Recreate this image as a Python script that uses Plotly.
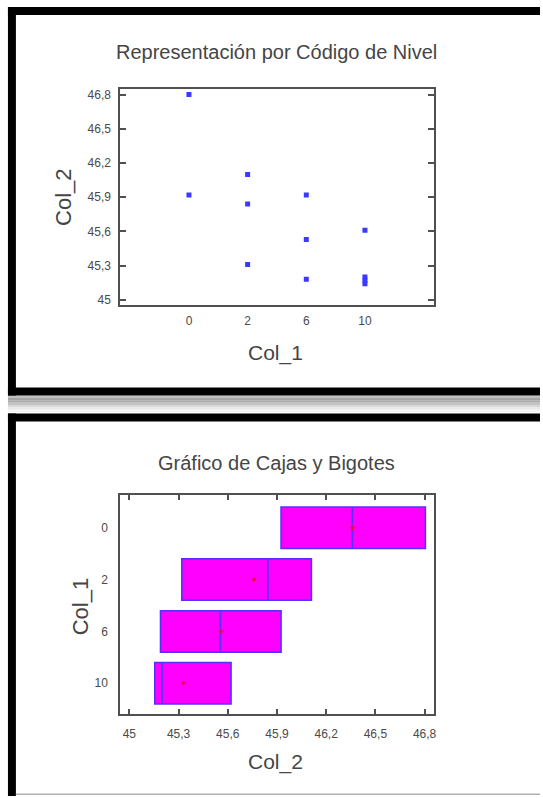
import plotly.graph_objects as go

# ---------------- data ----------------
scatter_x = ["0", "0", "2", "2", "2", "6", "6", "6", "10", "10", "10", "10"]
scatter_y = [46.80, 45.92, 46.10, 45.84, 45.31, 45.92, 45.53, 45.18, 45.61, 45.20, 45.17, 45.14]

box_cats = ["0", "2", "6", "10"]
box_q1 = [45.925, 45.32, 45.19, 45.155]
box_median = [46.36, 45.845, 45.555, 45.20]
box_q3 = [46.805, 46.11, 45.925, 45.62]
box_mean = [46.36, 45.76, 45.56, 45.33]

val_ticks = [45.0, 45.3, 45.6, 45.9, 46.2, 46.5, 46.8]
val_tick_text = ["45", "45,3", "45,6", "45,9", "46,2", "46,5", "46,8"]

title_top = "Representación por Código de Nivel"
title_bottom = "Gráfico de Cajas y Bigotes"
lab_col1 = "Col_1"
lab_col2 = "Col_2"

# ---------------- layout helpers ----------------
W, H = 543, 798
def px(x):
    return x / W
def py(y):
    return 1 - y / H

FONT = "Liberation Sans, Arial, sans-serif"
TXT = "#454545"
TICK = "#4a4a4a"
AXC = "#505050"

fig = go.Figure()

# top scatter
fig.add_trace(go.Scatter(
    x=scatter_x, y=scatter_y, mode="markers",
    marker=dict(symbol="square", size=5, color="#3a3aff"),
    xaxis="x", yaxis="y", showlegend=False, hoverinfo="x+y"))

# bottom box plot (precomputed stats)
fig.add_trace(go.Box(
    y=box_cats, q1=box_q1, median=box_median, q3=box_q3,
    lowerfence=box_q1, upperfence=box_q3,
    orientation="h", boxpoints=False, whiskerwidth=0, width=0.8,
    fillcolor="#ff00ff", line=dict(color="#5530ff", width=1.6),
    xaxis="x2", yaxis="y2", showlegend=False))

fig.add_trace(go.Scatter(
    x=box_mean, y=box_cats, mode="markers",
    marker=dict(symbol="cross", size=4, color="#e8103a"),
    xaxis="x2", yaxis="y2", showlegend=False))

axis_common = dict(showline=True, linecolor=AXC, linewidth=2, mirror=True,
                   showgrid=False, zeroline=False,
                   tickfont=dict(family=FONT, size=12, color=TICK))

fig.update_layout(
    width=W, height=H,
    margin=dict(l=0, r=0, t=0, b=0),
    paper_bgcolor="white", plot_bgcolor="white",
    separators=",.",
    xaxis=dict(domain=[px(121), px(436)], anchor="y", type="category",
               categoryorder="array", categoryarray=box_cats,
               range=[-1.17, 4.17], ticks="", ticklabelstandoff=4,
               **axis_common),
    yaxis=dict(domain=[py(305), py(88)], anchor="x",
               range=[44.956, 46.852], tickvals=val_ticks, ticktext=val_tick_text,
               ticks="inside", ticklen=6, tickcolor=AXC, tickwidth=1.5,
               ticklabelstandoff=5,
               **{**axis_common, "mirror": "ticks"}),
    xaxis2=dict(domain=[px(121), px(436)], anchor="y2",
                range=[44.945, 46.855], tickvals=val_ticks, ticktext=val_tick_text,
                ticks="inside", ticklen=5, tickcolor=AXC, tickwidth=1.5,
                ticklabelstandoff=7,
                **{**axis_common, "mirror": "ticks"}),
    yaxis2=dict(domain=[py(716), py(496)], anchor="x2", type="category",
                categoryorder="array", categoryarray=box_cats,
                range=[3.6, -0.63], ticks="", ticklabelstandoff=8,
                **axis_common),
)

# titles as annotations
ann = [
    dict(text=title_top, x=px(278), y=py(51), size=20, angle=0),
    dict(text=lab_col1, x=px(277), y=py(353), size=21, angle=0),
    dict(text=lab_col2, x=px(64), y=py(197), size=22, angle=-90),
    dict(text=title_bottom, x=px(278), y=py(464), size=20, angle=0),
    dict(text=lab_col1, x=px(81), y=py(608), size=22, angle=-90),
    dict(text=lab_col2, x=px(277), y=py(764), size=21, angle=0),
]
for a in ann:
    fig.add_annotation(text=a["text"], x=a["x"], y=a["y"], xref="paper", yref="paper",
                       xanchor="center", yanchor="middle", showarrow=False,
                       textangle=a["angle"],
                       font=dict(family=FONT, size=a["size"], color=TXT))

# panel frames (screenshot borders)
def rect(x0, y0, x1, y1, color):
    fig.add_shape(type="rect", xref="paper", yref="paper",
                  x0=px(x0), x1=px(x1), y0=py(y1), y1=py(y0),
                  fillcolor=color, line=dict(width=0), layer="above")

# shadow between panels
shadow = ["#c0c0c0", "#a4a4a4", "#ababab", "#c2c2c2", "#d8d8d8", "#e9e9e9", "#f5f5f5"]
for i, c in enumerate(shadow):
    rect(8, 396 + i * 2.4, 543, 396 + (i + 1) * 2.4, c)

# top panel
rect(8, 6, 543, 14, "black")
rect(8, 6, 16, 396, "black")
rect(8, 388, 543, 396, "black")
# bottom panel
rect(8, 414, 543, 422, "black")
rect(8, 414, 16, 798, "black")
rect(16, 795.5, 543, 797, "#b0b0b0")

fig.write_html("out.html", config={"displayModeBar": False},
               post_script="document.body.style.margin='0';document.body.style.overflow='hidden';")
